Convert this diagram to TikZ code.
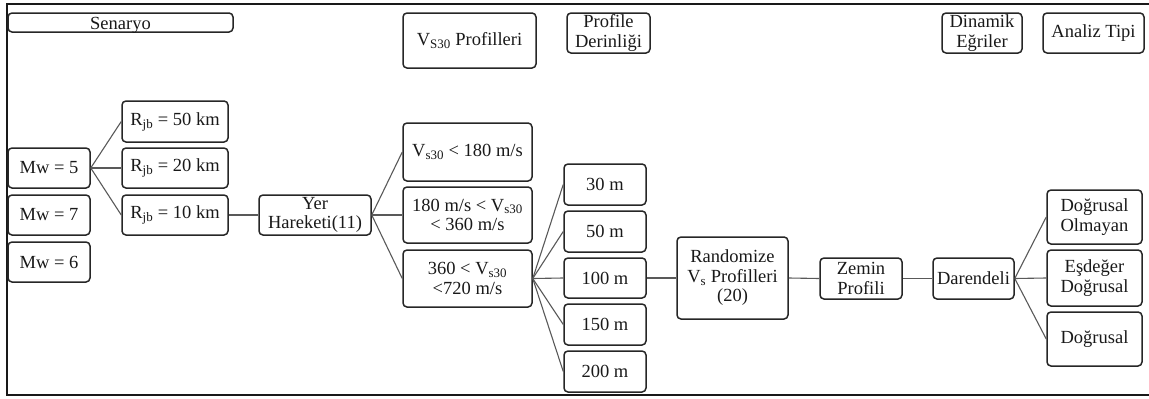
\documentclass[tikz,border=0pt]{standalone}
\usepackage{fontspec}
\setmainfont{Liberation Serif}
\newcommand{\fs}{\fontsize{18.5pt}{19.5pt}\selectfont}
\newcommand{\sub}[1]{\textsubscript{#1}}
\begin{document}
\begin{tikzpicture}[x=1pt,y=-1pt,
  bx/.style={draw=black!85, line width=1.5pt, rounded corners=4pt, inner sep=0pt,
    align=center, font=\fs, text=black!90},
  ln/.style={draw=black!65, line width=1.1pt}]
\useasboundingbox (0,0) rectangle (1149,399);
\draw[line width=2pt, black!90] (1149,4) -- (7,4) -- (7,395) -- (1149,395);
% header boxes
\node[bx, minimum width=225pt, minimum height=19pt, text height=15pt, text depth=2pt] (sen) at (120.5,22.5) {Senaryo};
\node[bx, minimum width=133pt, minimum height=55pt] (vsp) at (469.5,40.5) {V\sub{S30} Profilleri};
\node[bx, minimum width=83pt, minimum height=40pt] (pd) at (608.5,33) {Profile\\Derinliği};
\node[bx, minimum width=80pt, minimum height=40pt] (de) at (982,33) {Dinamik\\Eğriler};
\node[bx, minimum width=101pt, minimum height=40pt] (at) at (1093.5,33) {Analiz Tipi};
% scenario
\node[bx, minimum width=106pt, minimum height=41pt] (r50) at (175,121.5) {R\sub{jb} = 50 km};
\node[bx, minimum width=82pt, minimum height=40pt] (mw5) at (49,168) {Mw = 5};
\node[bx, minimum width=106pt, minimum height=40pt] (r20) at (175,168) {R\sub{jb} = 20 km};
\node[bx, minimum width=82pt, minimum height=40pt] (mw7) at (49,215) {Mw = 7};
\node[bx, minimum width=106pt, minimum height=40pt] (r10) at (175,215) {R\sub{jb} = 10 km};
\node[bx, minimum width=82pt, minimum height=40pt] (mw6) at (49,262) {Mw = 6};
\node[bx, minimum width=112pt, minimum height=40pt] (yer) at (315,215) {Yer\\Hareketi(11)};
% Vs30
\node[bx, minimum width=129pt, minimum height=58pt] (v1) at (467.5,152) {V\sub{s30} < 180 m/s};
\node[bx, minimum width=129pt, minimum height=56pt] (v2) at (467.5,215) {180 m/s < V\sub{s30}\\< 360 m/s};
\node[bx, minimum width=129pt, minimum height=57pt] (v3) at (467.5,278.5) {360 < V\sub{s30}\\<720 m/s};
% depths
\node[bx, minimum width=82pt, minimum height=41pt] (d30) at (605,184.5) {30 m};
\node[bx, minimum width=82pt, minimum height=41pt] (d50) at (605,231.5) {50 m};
\node[bx, minimum width=82pt, minimum height=40pt] (d100) at (605,278) {100 m};
\node[bx, minimum width=82pt, minimum height=41pt] (d150) at (605,324.5) {150 m};
\node[bx, minimum width=82pt, minimum height=41pt] (d200) at (605,371.5) {200 m};
% right part
\node[bx, minimum width=111pt, minimum height=82pt] (rnd) at (732.5,278) {Randomize\\V\sub{s} Profilleri\\(20)};
\node[bx, minimum width=82pt, minimum height=41pt] (zp) at (861,278.5) {Zemin\\Profili};
\node[bx, minimum width=81pt, minimum height=41pt] (dar) at (973.5,278.5) {Darendeli};
\node[bx, minimum width=95pt, minimum height=54pt] (a1) at (1094.5,217) {Doğrusal\\Olmayan};
\node[bx, minimum width=95pt, minimum height=56pt] (a2) at (1094.5,278) {Eşdeğer\\Doğrusal};
\node[bx, minimum width=95pt, minimum height=54pt] (a3) at (1094.5,339) {Doğrusal};
% connectors
\foreach \t in {r50,r20,r10} \draw[ln] (mw5.east) -- (\t.west);
\draw[ln] (r10.east) -- (yer.west);
\foreach \t in {v1,v2,v3} \draw[ln] (yer.east) -- (\t.west);
\foreach \t in {d30,d50,d100,d150,d200} \draw[ln] (v3.east) -- (\t.west);
\draw[ln] (d100.east) -- (rnd.west);
\draw[ln] (rnd.east) -- (zp.west);
\draw[ln] (zp.east) -- (dar.west);
\foreach \t in {a1,a2,a3} \draw[ln] (dar.east) -- (\t.west);
\end{tikzpicture}
\end{document}
